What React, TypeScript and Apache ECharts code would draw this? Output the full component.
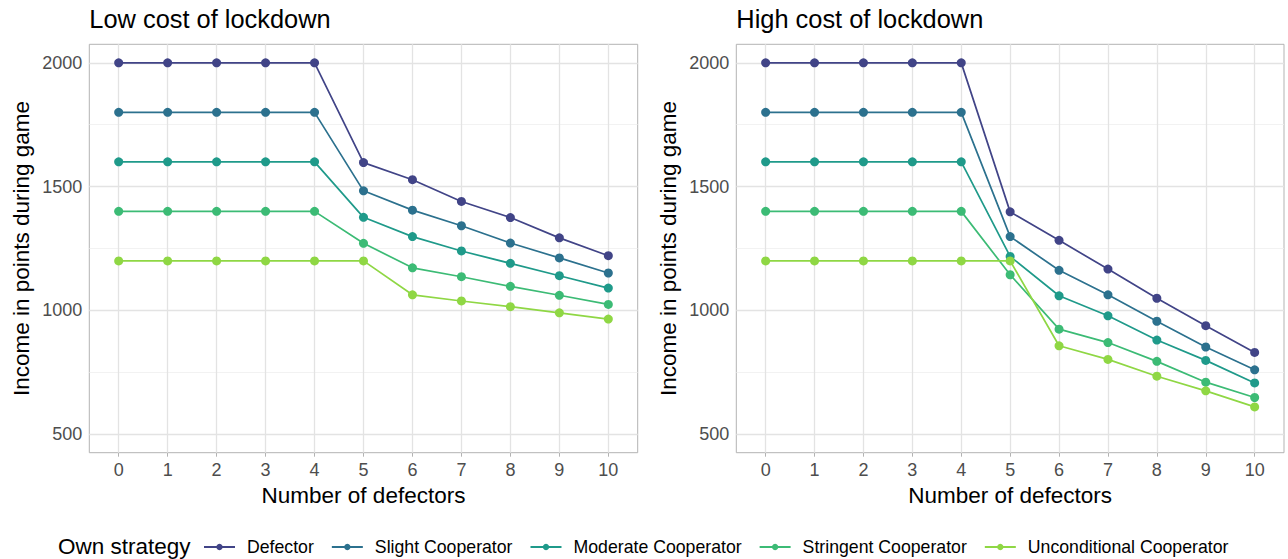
import React, { useEffect, useRef } from "react";
import * as echarts from "echarts";

const defectors = [0, 1, 2, 3, 4, 5, 6, 7, 8, 9, 10];
const strategies = [
  "Defector",
  "Slight Cooperator",
  "Moderate Cooperator",
  "Stringent Cooperator",
  "Unconditional Cooperator",
];
const colors = ["#414487", "#2C718E", "#1F9A8A", "#3CBB75", "#8FD744"];

const lowDefector = [2000, 2000, 2000, 2000, 2000, 1597, 1528, 1440, 1375, 1293, 1221];
const lowSlight = [1800, 1800, 1800, 1800, 1800, 1483, 1405, 1342, 1272, 1212, 1151];
const lowModerate = [1600, 1600, 1600, 1600, 1600, 1376, 1298, 1240, 1190, 1140, 1090];
const lowStringent = [1400, 1400, 1400, 1400, 1400, 1271, 1172, 1136, 1097, 1061, 1024];
const lowUnconditional = [1200, 1200, 1200, 1200, 1200, 1200, 1063, 1038, 1015, 990, 965];

const highDefector = [2000, 2000, 2000, 2000, 2000, 1398, 1283, 1167, 1049, 938, 830];
const highSlight = [1800, 1800, 1800, 1800, 1800, 1298, 1162, 1063, 956, 852, 760];
const highModerate = [1600, 1600, 1600, 1600, 1600, 1218, 1059, 978, 880, 798, 707];
const highStringent = [1400, 1400, 1400, 1400, 1400, 1144, 924, 870, 794, 710, 648];
const highUnconditional = [1200, 1200, 1200, 1200, 1200, 1200, 857, 802, 734, 675, 610];

const yMajor = [500, 1000, 1500, 2000];
const yMinor = [750, 1250, 1750];
const panelTitles = ["Low cost of lockdown", "High cost of lockdown"];

const lowSeries = [lowDefector, lowSlight, lowModerate, lowStringent, lowUnconditional];
const highSeries = [highDefector, highSlight, highModerate, highStringent, highUnconditional];

const FONT = "'Liberation Sans', Arial, sans-serif";

export default function App() {
  const ref = useRef<HTMLDivElement>(null);

  useEffect(() => {
    if (!ref.current) return;
    const chart = echarts.init(ref.current, null, { renderer: "svg" });

    const grids = [
      { left: 89.3, top: 44.3, width: 548.4, height: 408.4 },
      { left: 736.3, top: 44.3, width: 547.7, height: 408.4 },
    ];

    const xAxes = grids.map((_, i) => ({
      type: "value",
      gridIndex: i,
      min: -0.6,
      max: 10.6,
      name: "Number of defectors",
      nameLocation: "middle",
      nameGap: 29,
      nameTextStyle: { fontSize: 22.5, color: "#000", fontFamily: FONT },
      axisLine: { show: false },
      splitLine: { show: false },
      axisTick: {
        show: true,
        customValues: defectors,
        length: 4,
        lineStyle: { color: "#B3B3B3", width: 1 },
      },
      axisLabel: {
        customValues: defectors,
        color: "#4D4D4D",
        fontSize: 18,
        margin: 8,
        fontFamily: FONT,
        formatter: (v: number) => String(v),
      },
    }));

    const yAxes = grids.map((_, i) => ({
      type: "value",
      gridIndex: i,
      min: 425,
      max: 2075,
      name: "Income in points during game",
      nameLocation: "middle",
      nameGap: 56,
      nameRotate: 90,
      nameTextStyle: { fontSize: 22.5, color: "#000", fontFamily: FONT },
      axisLine: { show: false },
      splitLine: { show: false },
      axisTick: {
        show: true,
        customValues: yMajor,
        length: 4,
        lineStyle: { color: "#B3B3B3", width: 1 },
      },
      axisLabel: {
        customValues: yMajor,
        color: "#4D4D4D",
        fontSize: 18,
        margin: 7,
        fontFamily: FONT,
        formatter: (v: number) => String(v),
      },
    }));

    const gridSeries = grids.map((_, i) => ({
      type: "line",
      name: "__grid" + i,
      xAxisIndex: i,
      yAxisIndex: i,
      data: [],
      silent: true,
      z: 1,
      markLine: {
        silent: true,
        z: 1,
        symbol: "none",
        animation: false,
        label: { show: false },
        emphasis: { disabled: true },
        data: [
          ...yMinor.map((v) => ({
            yAxis: v,
            lineStyle: { color: "#EFEFEF", width: 0.8, type: "solid" },
          })),
          ...yMajor.map((v) => ({
            yAxis: v,
            lineStyle: { color: "#E3E3E3", width: 1.3, type: "solid" },
          })),
          ...defectors.map((v) => ({
            xAxis: v,
            lineStyle: { color: "#E3E3E3", width: 1.3, type: "solid" },
          })),
        ],
      },
    }));

    const dataSeries: any[] = [];
    [lowSeries, highSeries].forEach((set, gi) => {
      set.forEach((vals, si) => {
        dataSeries.push({
          type: "line",
          name: strategies[si],
          xAxisIndex: gi,
          yAxisIndex: gi,
          data: defectors.map((d, k) => [d, vals[k]]),
          symbol: "circle",
          symbolSize: 9,
          showSymbol: true,
          z: 10 + si,
          lineStyle: { color: colors[si], width: 1.7 },
          itemStyle: { color: colors[si] },
          emphasis: { disabled: true },
        });
      });
    });

    chart.setOption({
      animation: false,
      backgroundColor: "#FFFFFF",
      textStyle: { fontFamily: FONT },
      title: panelTitles.map((t, i) => ({
        text: t,
        left: grids[i].left,
        top: 6,
        padding: 0,
        textStyle: { fontSize: 25.4, fontWeight: "normal", color: "#000", fontFamily: FONT },
      })),
      grid: grids.map((g) => ({
        ...g,
        show: true,
        borderColor: "#B3B3B3",
        borderWidth: 1,
        backgroundColor: "transparent",
        containLabel: false,
      })),
      xAxis: xAxes,
      yAxis: yAxes,
      legend: {
        data: strategies,
        left: 203,
        top: 538,
        padding: 0,
        itemWidth: 31,
        itemHeight: 8,
        itemGap: 17,
        selectedMode: false,
        textStyle: {
          fontSize: 17.7,
          color: "#000",
          fontFamily: FONT,
          padding: [0, 0, 0, 7],
        },
      },
      graphic: [
        {
          type: "text",
          left: 58,
          top: 535,
          style: {
            text: "Own strategy",
            fontSize: 22.5,
            fill: "#000",
            fontFamily: FONT,
          },
        },
      ],
      series: [...gridSeries, ...dataSeries],
    });

    return () => chart.dispose();
  }, []);

  return (
    <div
      ref={ref}
      style={{ position: "absolute", left: 0, top: 0, width: 1288, height: 559 }}
    />
  );
}
